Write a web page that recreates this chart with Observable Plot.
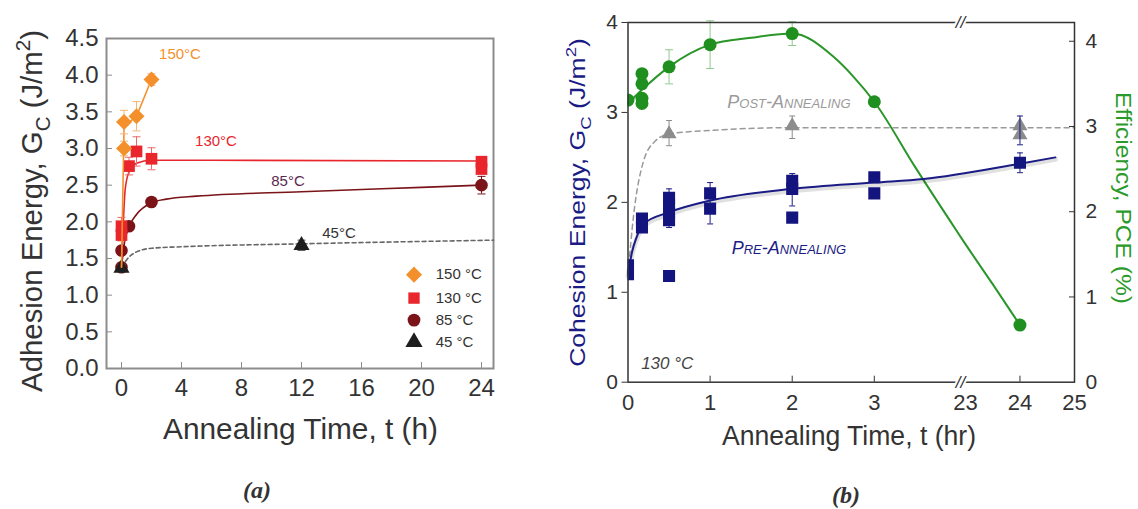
<!DOCTYPE html>
<html>
<head>
<meta charset="utf-8">
<script src="https://cdn.jsdelivr.net/npm/d3@7"></script>
<script src="https://cdn.jsdelivr.net/npm/@observablehq/plot@0.6"></script>
<style>
html, body { margin: 0; padding: 0; background: #fff; }
#wrap { position: relative; width: 1138px; height: 509px; overflow: hidden; background: #fff; }
#wrap svg { position: absolute; left: 0; top: 0; }
</style>
</head>
<body>
<div id="wrap"></div>
<script>
// ================= DATA =================
// ---- Panel (a): adhesion energy vs annealing time ----
const aSeries = ["150 °C", "130 °C", "85 °C", "45 °C"];
const aXTicks = [0, 4, 8, 12, 16, 20, 24];
const aYTicks = [0, 0.5, 1, 1.5, 2, 2.5, 3, 3.5, 4, 4.5];

const a150T = [0.17, 0.17, 1, 2];
const a150G = [3.0, 3.36, 3.44, 3.94];
const a150E = [0.1, 0.16, 0.2, 0.08];
const a130T = [0, 0, 0.5, 1, 2, 24, 24];
const a130G = [1.94, 1.82, 2.76, 2.96, 2.86, 2.82, 2.72];
const a130E = [0.12, 0.08, 0.12, 0.2, 0.15, 0.05, 0.05];
const a85T = [0, 0, 0.5, 2, 24];
const a85G = [1.38, 1.61, 1.94, 2.27, 2.5];
const a85E = [0, 0.04, 0.04, 0.05, 0.12];
const a45T = [0, 12];
const a45G = [1.37, 1.68];
const a45E = [0.05, 0.07];

// guide curves drawn through the data
const a150FitT = [0, 0.17, 1, 2];
const a150FitG = [1.38, 3.3, 3.44, 3.94];
const a130FitT = [0, 0.1, 0.25, 0.5, 1, 2, 6, 24];
const a130FitG = [1.38, 1.9, 2.45, 2.68, 2.8, 2.84, 2.84, 2.83];
const a85FitT = [0, 0.2, 0.5, 1, 2, 3, 5, 12, 20, 24];
const a85FitG = [1.38, 1.72, 1.93, 2.1, 2.26, 2.31, 2.35, 2.41, 2.47, 2.5];
const a45FitT = [0, 0.5, 1, 2, 4, 12, 24.8];
const a45FitG = [1.38, 1.52, 1.59, 1.64, 1.66, 1.7, 1.75];

const aNoteText = ["150°C", "130°C", "85°C", "45°C"];
const aNoteT = [3.9, 6.3, 11.1, 14.5];
const aNoteG = [4.28, 3.1, 2.55, 1.85];

// ---- Panel (b): cohesion energy and PCE vs annealing time (130 °C) ----
const bXTicks = [0, 1, 2, 3, 23, 24, 25];
const bYTicks = [0, 1, 2, 3, 4];
const pceTicks = [0, 1, 2, 3, 4];

const preT = [0, 0, 0.17, 0.17, 0.5, 0.5, 0.5, 0.5, 0.5, 1, 1, 2, 2, 2, 3, 3, 24];
const preG = [1.2, 1.3, 1.82, 1.72, 2.05, 1.97, 1.88, 1.8, 1.18, 2.1, 1.93, 2.24, 2.15, 1.83, 2.28, 2.1, 2.44];
const preErrT = [0.5, 1, 2, 24, 24];
const preErrLo = [1.72, 1.76, 1.96, 2.33, 2.64];
const preErrHi = [2.15, 2.22, 2.32, 2.55, 2.96];
const preFitT = [0, 0.05, 0.1, 0.19, 0.5, 1, 2, 3, 3.6, 24, 24.65];
const preFitG = [1.2, 1.45, 1.6, 1.76, 1.89, 2.02, 2.15, 2.22, 2.26, 2.43, 2.5];

const postT = [0.5, 2, 24, 24];
const postG = [2.76, 2.85, 2.85, 2.75];
const postErrT = [0.5, 2];
const postErrLo = [2.63, 2.71];
const postErrHi = [2.91, 2.96];
const postFitT = [0, 0.07, 0.19, 0.33, 0.5, 1, 2, 3, 25];
const postFitG = [1.2, 1.87, 2.46, 2.68, 2.76, 2.8, 2.83, 2.83, 2.83];

const pceT = [0, 0.17, 0.17, 0.17, 0.17, 0.5, 1, 2, 3, 24];
const pceV = [3.31, 3.62, 3.5, 3.33, 3.27, 3.7, 3.96, 4.09, 3.29, 0.67];
const pceE = [0, 0, 0, 0, 0, 0.2, 0.28, 0.14, 0, 0];
const pceFitT = [0, 0.17, 0.5, 1, 1.5, 2, 2.5, 2.75, 3, 3.5, 4, 23, 23.5, 24];
const pceFitV = [3.27, 3.43, 3.7, 3.96, 4.04, 4.09, 3.82, 3.58, 3.29, 2.52, 1.78, 1.62, 1.15, 0.67];

// ================= LAYOUT / STYLE =================
const W = 1138, H = 509;
const FONT = '"Liberation Sans", Arial, Helvetica, sans-serif';
const SERIF = '"Liberation Serif", "Times New Roman", serif';
const STYLE = {background: "transparent", overflow: "visible", fontFamily: FONT};

// broken time axis of panel (b): 0..4.05 h, then 22.91..25 h compressed
const gapLo = 4.05, gapHi = 22.91, rightScale = 54.6 / 82.2;
const toU = t => (t <= gapLo ? t : gapLo + (t - gapHi) * rightScale);

const rowsOf = (T, V, E) => T.map((t, i) => ({t, u: toU(t), v: V[i], e: E ? E[i] : 0}));
const diamond = {draw(ctx, size) { const r = Math.sqrt(size / 2); ctx.moveTo(0, -r); ctx.lineTo(r, 0); ctx.lineTo(0, r); ctx.lineTo(-r, 0); ctx.closePath(); }};
const cap = w => ({draw(ctx) { ctx.moveTo(-w, 0); ctx.lineTo(w, 0); }});

function errorBars(rows, xKey, color, w, lo = d => d.v - d.e, hi = d => d.v + d.e) {
  return [
    Plot.ruleX(rows, {x: xKey, y1: lo, y2: hi, stroke: color, strokeWidth: 1}),
    Plot.dot(rows, {x: xKey, y: hi, symbol: cap(w), stroke: color, fill: "none", r: 1, strokeWidth: 1}),
    Plot.dot(rows, {x: xKey, y: lo, symbol: cap(w), stroke: color, fill: "none", r: 1, strokeWidth: 1})
  ];
}

function addLabel(svg, {x, y, rot = 0, size, color = "#333", parts, len = null, sy = 1, family = FONT, style = "normal", weight = "normal"}) {
  const t = d3.select(svg).append("text")
    .attr("text-anchor", "middle")
    .attr("font-family", family).attr("font-size", size)
    .attr("font-style", style).attr("font-weight", weight)
    .attr("fill", color);
  let shift = 0;
  for (const [s, kind] of parts) {
    const target = kind === "sub" ? 0.28 * size : kind === "sup" ? -0.42 * size : 0;
    t.append("tspan").attr("dy", target - shift).attr("font-size", kind ? size * 0.7 : size).text(s);
    shift = target;
  }
  let sx = 1;
  if (len) sx = len / t.node().getComputedTextLength();
  t.attr("transform", `translate(${x},${y}) rotate(${rot}) scale(${sx},${sy})`);
}

const wrap = document.getElementById("wrap");

// ================= PANEL (a) =================
const aDefs = [
  {color: "#7a1418", err: "#7a1418", sym: "circle", r: 6.3, pts: rowsOf(a85T, a85G, a85E), fit: rowsOf(a85FitT, a85FitG), curve: "monotone-x", dash: null},
  {color: "#1e1e1e", err: "#555", sym: "triangle", r: 6, pts: rowsOf(a45T, a45G, a45E), fit: rowsOf(a45FitT, a45FitG), curve: "monotone-x", dash: "4,3", line: "#666"},
  {color: "#e8262c", err: "#ee6a6a", sym: "square", r: 6.6, pts: rowsOf(a130T, a130G, a130E), fit: rowsOf(a130FitT, a130FitG), curve: "monotone-x", dash: null},
  {color: "#f4902c", err: "#f6b478", sym: diamond, r: 6.4, pts: rowsOf(a150T, a150G, a150E), fit: rowsOf(a150FitT, a150FitG), curve: "linear", dash: null}
];
const legendSym = [diamond, "square", "circle", "triangle"];
const legendColor = ["#f4902c", "#e8262c", "#7a1418", "#1e1e1e"];
const legendY = [1.28, 0.96, 0.66, 0.36];
const noteColor = ["#f4902c", "#e8262c", "#5b2a50", "#333"];

const aPlot = Plot.plot({
  width: W, height: H,
  marginLeft: 106, marginRight: W - 493, marginTop: 38, marginBottom: H - 368,
  style: STYLE,
  x: {domain: [-1, 24.8]},
  y: {domain: [0, 4.5]},
  marks: [
    Plot.frame({stroke: "#8c8c8c", strokeWidth: 2}),
    Plot.axisY({ticks: aYTicks, tickSize: 0, tickPadding: 8, tickFormat: d => d.toFixed(1), fontSize: 24, color: "#333", label: null}),
    Plot.axisY({ticks: aYTicks, tickSize: 6, dx: 6, tickFormat: () => "", color: "#8c8c8c", label: null}),
    Plot.axisX({ticks: aXTicks, tickSize: 0, tickPadding: 10, tickFormat: d => String(d), fontSize: 24, color: "#333", label: null}),
    Plot.axisX({ticks: aXTicks, tickSize: 6, dy: -6, tickFormat: () => "", color: "#8c8c8c", label: null}),
    ...aDefs.flatMap(d => [
      Plot.line(d.fit, {x: "t", y: "v", stroke: d.line || d.color, strokeWidth: 1.6, curve: d.curve, strokeDasharray: d.dash}),
      ...errorBars(d.pts.filter(p => p.e > 0), "t", d.err, 4),
      Plot.dot(d.pts, {x: "t", y: "v", symbol: d.sym, r: d.r, fill: d.color, stroke: "none"})
    ]),
    ...aNoteText.map((s, i) => Plot.text([s], {x: [aNoteT[i]], y: [aNoteG[i]], text: d => d, fill: noteColor[i], fontSize: 15})),
    ...aSeries.map((s, i) => Plot.dot([s], {x: [19.5], y: [legendY[i]], symbol: legendSym[i], r: 6.4, fill: legendColor[i], stroke: "none"})),
    ...aSeries.map((s, i) => Plot.text([s], {x: [20.95], y: [legendY[i]], text: d => d, textAnchor: "start", fill: "#333", fontSize: 15}))
  ]
});
wrap.appendChild(aPlot);
addLabel(aPlot, {x: 42, y: 211, rot: -90, size: 29, parts: [["Adhesion Energy, G", ""], ["C", "sub"], [" (J/m", ""], ["2", "sup"], [")", ""]], len: 362});
addLabel(aPlot, {x: 300.5, y: 439, size: 27, parts: [["Annealing Time, t (h)", ""]], len: 275, sy: 1.08});
addLabel(aPlot, {x: 257, y: 498, size: 24, parts: [["(a)", ""]], family: SERIF, style: "italic", weight: "bold"});

// ================= PANEL (b) =================
const bMargins = {marginLeft: 627.5, marginRight: W - 1074, marginTop: 22, marginBottom: H - 381.7};
const uDomain = [0, toU(25)];
const tickLabel = new Map(bXTicks.map(t => [toU(t), String(t)]));

// PCE layer (right axis)
const pceRows = rowsOf(pceT, pceV, pceE);
const pcePlot = Plot.plot({
  width: W, height: H, ...bMargins, style: STYLE,
  x: {domain: uDomain, axis: null},
  y: {domain: [0, 4.22]},
  marks: [
    Plot.axisY({anchor: "right", ticks: pceTicks, tickSize: 0, tickPadding: 11, tickFormat: d => String(d), fontSize: 21, color: "#333", label: null}),
    Plot.axisY({anchor: "right", ticks: [1, 2, 3, 4], tickSize: 6, dx: -6, tickFormat: () => "", color: "#333", label: null}),
    ...errorBars(pceRows.filter(p => p.e > 0), "u", "#8fca8f", 4),
    Plot.line(rowsOf(pceFitT, pceFitV), {x: "u", y: "v", stroke: "#2a962a", strokeWidth: 2, curve: "monotone-x"}),
    Plot.dot(pceRows, {x: "u", y: "v", symbol: "circle", r: 6.5, fill: "#1f8f1f", stroke: "none", clip: true})
  ]
});
wrap.appendChild(pcePlot);

// Cohesion layer (left axis)
const preRows = rowsOf(preT, preG);
const postRows = rowsOf(postT, postG);
const preErr = preErrT.map((t, i) => ({u: toU(t), lo: preErrLo[i], hi: preErrHi[i]}));
const postErr = postErrT.map((t, i) => ({u: toU(t), lo: postErrLo[i], hi: postErrHi[i]}));
const preFit = rowsOf(preFitT, preFitG);

const bPlot = Plot.plot({
  width: W, height: H, ...bMargins, style: STYLE,
  x: {domain: uDomain},
  y: {domain: [0, 4]},
  marks: [
    Plot.axisY({ticks: bYTicks, tickSize: 6, tickPadding: 4, tickFormat: d => String(d), fontSize: 21, color: "#333", label: null}),
    Plot.axisX({ticks: bXTicks.map(toU), tickSize: 0, tickPadding: 12, tickFormat: u => tickLabel.get(u) ?? "", fontSize: 22, color: "#333", label: null}),
    Plot.axisX({ticks: [1, 2, 3, 24].map(toU), tickSize: 6, dy: -6, tickFormat: () => "", color: "#333", label: null}),
    Plot.line(rowsOf(postFitT, postFitG), {x: "u", y: "v", stroke: "#9a9a9a", strokeWidth: 1.5, strokeDasharray: "5,4", curve: "monotone-x"}),
    ...errorBars(postErr, "u", "#8c8c8c", 3, d => d.lo, d => d.hi),
    Plot.dot(postRows, {x: "u", y: "v", symbol: "triangle", r: 5.6, fill: "#8c8c8c", stroke: "none"}),
    Plot.line(preFit, {x: "u", y: "v", stroke: "#000", strokeOpacity: 0.12, strokeWidth: 5, dy: 2, curve: "monotone-x"}),
    Plot.line(preFit, {x: "u", y: "v", stroke: "#1b1b85", strokeWidth: 2, curve: "monotone-x"}),
    ...errorBars(preErr, "u", "#1b1b85", 3, d => d.lo, d => d.hi),
    Plot.dot(preRows, {x: "u", y: "v", symbol: "square", r: 6.8, fill: "#14147f", stroke: "none", clip: true}),
    Plot.text(["Post-Annealing"], {x: [toU(1.96)], y: [3.11], text: d => d, fontSize: 18, fontStyle: "italic", fontVariant: "small-caps", fill: "#9a9a9a"}),
    Plot.text(["Pre-Annealing"], {x: [toU(1.96)], y: [1.49], text: d => d, fontSize: 18, fontStyle: "italic", fontVariant: "small-caps", fill: "#1b1b85"}),
    Plot.text(["130 °C"], {x: [toU(0.16)], y: [0.21], text: d => d, fontSize: 17, fontStyle: "italic", fill: "#444", textAnchor: "start"}),
    Plot.frame({stroke: "#333", strokeWidth: 1.5}),
    Plot.text(["//"], {x: [gapLo], frameAnchor: "top", text: d => d, fontSize: 17, fontStyle: "italic", fill: "#333", stroke: "white", strokeWidth: 4, lineAnchor: "middle"}),
    Plot.text(["//"], {x: [gapLo], frameAnchor: "bottom", text: d => d, fontSize: 17, fontStyle: "italic", fill: "#333", stroke: "white", strokeWidth: 4, lineAnchor: "middle"})
  ]
});
wrap.appendChild(bPlot);
addLabel(bPlot, {x: 585, y: 202.5, rot: -90, size: 22, color: "#1b1b85", parts: [["Cohesion Energy, G", ""], ["C", "sub"], [" (J/m", ""], ["2", "sup"], [")", ""]], len: 329});
addLabel(bPlot, {x: 1116, y: 198, rot: 90, size: 22, color: "#2a9a2a", parts: [["Efficiency, PCE (%)", ""]], len: 212});
addLabel(bPlot, {x: 849, y: 445, size: 24, parts: [["Annealing Time, t (hr)", ""]], len: 254, sy: 1.12});
addLabel(bPlot, {x: 846, y: 503, size: 24, parts: [["(b)", ""]], family: SERIF, style: "italic", weight: "bold"});
</script>
</body>
</html>
